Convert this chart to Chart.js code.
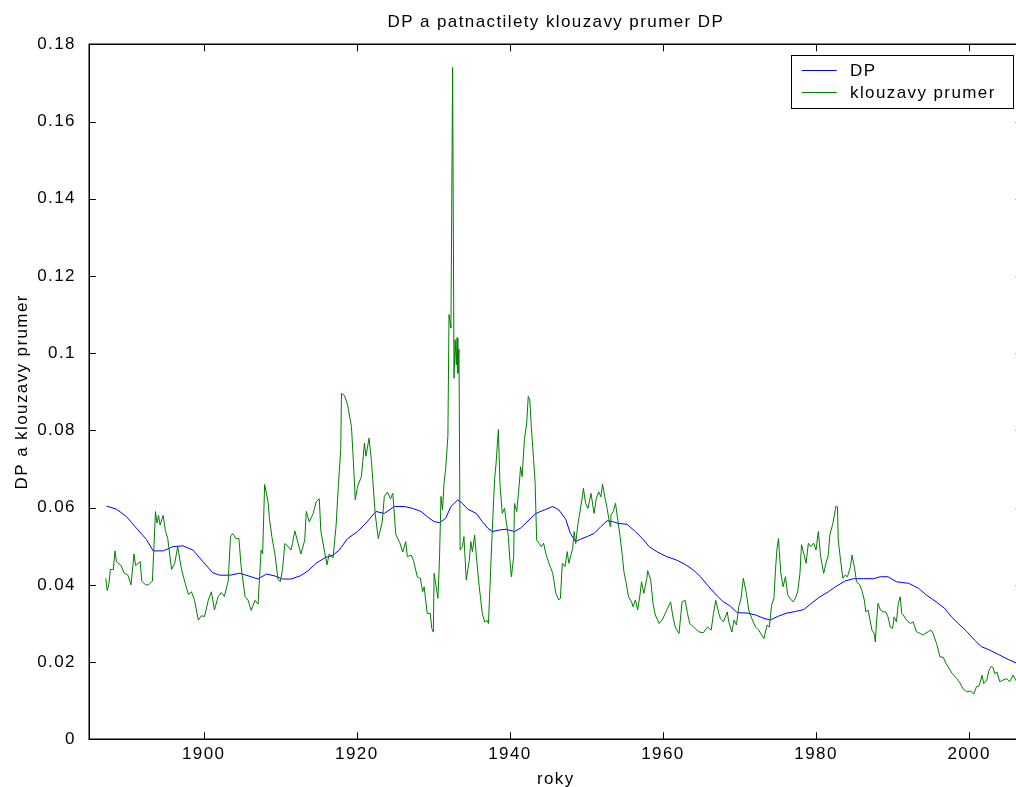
<!DOCTYPE html>
<html><head><meta charset="utf-8">
<script src="https://cdn.jsdelivr.net/npm/chart.js@4.4.1/dist/chart.umd.min.js"></script>
<style>html,body{margin:0;padding:0;background:#fff;overflow:hidden}#wrap{width:1030px;height:787px}</style>
</head><body><div id="wrap"><canvas id="c" width="1030" height="787"></canvas></div>
<script>
const titleText = 'DP a patnactilety klouzavy prumer DP';
const xTitle = 'roky';
const yTitle = 'DP a klouzavy prumer';
const seriesNames = ['DP', 'klouzavy prumer'];
const xTicks = [1900, 1920, 1940, 1960, 1980, 2000];
const yTicks = [0, 0.02, 0.04, 0.06, 0.08, 0.1, 0.12, 0.14, 0.16, 0.18];

// blue series (smooth)
const dpYears = [1887.3,1888.6,1889.9,1891.2,1892.5,1893.4,1894.7,1896.0,1897.3,1898.6,1899.9,1901.2,1902.1,1903.4,1904.7,1906.2,1907.1,1908.2,1909.3,1910.3,1911.4,1912.7,1913.6,1914.7,1915.8,1916.9,1917.7,1918.8,1920.1,1921.2,1922.5,1923.6,1924.9,1926.2,1927.3,1928.4,1929.3,1930.1,1930.8,1931.6,1932.3,1933.2,1933.8,1934.5,1935.6,1936.4,1937.1,1937.7,1938.6,1939.5,1940.6,1941.4,1942.5,1943.4,1944.5,1945.6,1946.4,1947.3,1947.9,1948.6,1949.2,1950.1,1951.0,1951.9,1952.7,1953.4,1954.2,1955.3,1956.4,1957.5,1958.2,1959.2,1960.5,1961.8,1962.9,1964.0,1964.9,1966.0,1967.1,1967.9,1968.8,1969.7,1971.0,1972.1,1973.2,1974.0,1975.1,1976.2,1977.3,1978.4,1979.5,1980.5,1981.6,1982.7,1983.8,1984.9,1986.2,1987.5,1988.4,1989.4,1990.5,1992.1,1993.4,1994.4,1995.7,1996.8,1997.7,1998.6,1999.7,2000.7,2001.6,2002.7,2004.0,2005.1,2006.1,2006.4];
const dpValues = [0.0604,0.0596,0.0577,0.0547,0.0518,0.0488,0.0488,0.0499,0.0501,0.0490,0.0460,0.0431,0.0425,0.0425,0.0430,0.0421,0.0415,0.0428,0.0423,0.0415,0.0415,0.0424,0.0436,0.0456,0.0470,0.0477,0.0490,0.0520,0.0538,0.0560,0.0590,0.0585,0.0603,0.0603,0.0598,0.0590,0.0575,0.0564,0.0561,0.0572,0.0603,0.0620,0.0611,0.0596,0.0585,0.0564,0.0547,0.0538,0.0542,0.0544,0.0538,0.0547,0.0568,0.0585,0.0594,0.0603,0.0594,0.0570,0.0533,0.0512,0.0518,0.0525,0.0533,0.0551,0.0566,0.0564,0.0559,0.0557,0.0538,0.0516,0.0499,0.0486,0.0473,0.0464,0.0453,0.0438,0.0421,0.0395,0.0371,0.0356,0.0345,0.0328,0.0327,0.0322,0.0313,0.0309,0.0319,0.0327,0.0331,0.0336,0.0354,0.0369,0.0382,0.0397,0.0410,0.0416,0.0416,0.0416,0.0421,0.0421,0.0408,0.0404,0.0391,0.0374,0.0356,0.0339,0.0317,0.0300,0.0279,0.0257,0.0240,0.0231,0.0218,0.0207,0.0198,0.0196];

// green series (noisy)
const maYears = [1887.2,1887.4,1887.6,1887.8,1888.2,1888.4,1888.6,1889.2,1889.6,1890.1,1890.5,1890.9,1891.1,1891.7,1891.9,1892.4,1892.8,1893.3,1893.7,1893.9,1894.1,1894.3,1894.7,1895.0,1895.3,1895.8,1896.2,1896.6,1897.1,1897.5,1898.0,1898.4,1898.8,1899.3,1899.7,1900.1,1900.6,1901.0,1901.4,1901.9,1902.3,1902.7,1903.2,1903.5,1903.8,1904.2,1904.6,1904.9,1905.4,1905.8,1906.2,
1906.7,1907.1,1907.3,1907.5,1907.7,1907.96,1908.4,1908.6,1908.9,1909.3,1909.7,1910.0,1910.3,1910.6,1911.0,1911.4,1911.6,1911.9,1912.3,1912.7,1913.2,1913.4,1913.8,1914.3,1914.7,1915.1,1915.3,1915.8,1916.1,1916.4,1916.9,1917.3,1917.6,1917.9,1918.0,1918.4,1918.8,1919.3,1919.5,1919.8,1920.1,1920.6,1921.0,1921.2,1921.6,1921.9,1922.4,1922.8,1923.3,1923.6,1924.0,1924.4,1924.7,1925.1,1925.6,
1926.0,1926.4,1926.6,1927.1,1927.4,1927.9,1928.3,1928.6,1928.8,1929.2,1929.6,1929.8,1930.0,1930.1,1930.3,1930.6,1930.8,1931.0,1931.2,1931.4,1931.6,1931.9,1932.05,1932.3,1932.52,1932.7,1932.85,1933.0,1933.1,1933.2,1933.35,1933.5,1933.6,1933.8,1934.0,1934.3,1934.5,1934.7,1934.9,1935.1,1935.4,1935.7,1936.0,1936.4,1936.7,1937.0,1937.2,1937.4,1937.7,1938.0,1938.2,1938.4,1938.5,1938.7,1939.0,1939.3,1939.5,1939.8,1940.0,1940.2,1940.5,1940.6,1940.9,1941.2,1941.4,1941.6,1941.9,1942.2,1942.4,1942.6,1942.8,1943.1,1943.3,1943.5,1943.8,1944.1,1944.4,1944.7,1945.1,1945.6,1946.0,1946.4,
1946.6,1946.85,1947.2,1947.5,1947.7,1948.2,1948.4,1948.6,1948.9,1949.2,1949.5,1949.6,1949.9,1950.2,1950.6,1951.0,1951.3,1951.6,1951.9,1952.1,1952.4,1952.7,1953.1,1953.2,1953.5,1953.8,1954.1,1954.4,1954.7,1954.9,1955.2,1955.5,1955.9,1956.1,1956.4,1956.7,1957.0,1957.2,1957.5,1957.9,1958.0,1958.4,1958.7,1959.0,1959.5,1959.9,1960.3,1960.6,1961.0,1961.3,1961.6,1962.1,1962.5,1962.9,1963.2,1963.5,1964.0,1964.7,1965.3,1965.8,1966.3,1966.6,1966.9,1967.3,
1967.5,1967.9,1968.4,1968.6,1969.0,1969.3,1969.6,1969.9,1970.2,1970.5,1970.9,1971.2,1971.6,1972.1,1972.5,1972.9,1973.2,1973.6,1973.9,1974.2,1974.5,1974.7,1974.9,1975.1,1975.2,1975.4,1975.7,1976.0,1976.3,1976.6,1977.0,1977.3,1977.6,1977.9,1978.1,1978.4,1978.7,1979.0,1979.3,1979.7,1980.0,1980.3,1980.6,1981.0,1981.3,1981.6,1981.8,1982.2,1982.4,1982.6,1982.8,1982.9,1983.2,1983.5,1983.8,1984.1,1984.5,1984.7,1985.0,1985.3,1985.7,
1986.0,1986.3,1986.5,1986.8,1987.05,1987.3,1987.6,1987.75,1987.9,1988.1,1988.4,1988.8,1989.1,1989.4,1989.7,1990.0,1990.2,1990.5,1990.75,1991.0,1991.2,1991.4,1991.8,1992.3,1992.7,1993.1,1993.6,1994.0,1994.4,1994.7,1995.0,1995.3,1995.75,1996.2,1996.6,1997.0,1997.4,1997.8,1998.4,1998.8,1999.2,1999.7,2000.2,2000.6,2000.96,2001.3,2001.7,2001.9,2002.3,2002.6,2002.9,2003.1,2003.35,2003.65,2004.0,2004.4,2004.9,2005.3,2005.75,2006.1,2006.4];
const maValues = [0.0417,0.0385,0.0400,0.0440,0.0440,0.0488,0.0460,0.0450,0.0431,0.0425,0.0400,0.0480,0.0450,0.0460,0.0410,0.0400,0.0400,0.0410,0.0590,0.0560,0.0580,0.0555,0.0580,0.0540,0.0520,0.0440,0.0455,0.0499,0.0440,0.0410,0.0375,0.0382,0.0360,0.0309,0.0320,0.0318,0.0360,0.0382,0.0335,0.0370,0.0380,0.0370,0.0410,0.0526,0.0533,0.0520,0.0520,0.0445,0.0370,0.0360,0.0334,
0.0360,0.0350,0.0420,0.0490,0.0480,0.0660,0.0616,0.0570,0.0525,0.0480,0.0415,0.0408,0.0440,0.0507,0.0500,0.0490,0.0507,0.0540,0.0510,0.0480,0.0516,0.0590,0.0563,0.0585,0.0615,0.0623,0.0540,0.0485,0.0452,0.0480,0.0470,0.0555,0.0660,0.0750,0.0896,0.0890,0.0866,0.0810,0.0740,0.0620,0.0655,0.0680,0.0767,0.0733,0.0780,0.0724,0.0585,0.0520,0.0560,0.0629,0.0640,0.0623,0.0637,0.0530,0.0510,
0.0485,0.0512,0.0473,0.0477,0.0464,0.0421,0.0417,0.0382,0.0395,0.0326,0.0326,0.0287,0.0278,0.0430,0.0404,0.0365,0.0464,0.0629,0.0594,0.0663,0.0698,0.0784,0.1100,0.1065,0.1740,0.0935,0.1035,0.0970,0.1040,0.0948,0.1010,0.0490,0.0490,0.0499,0.0525,0.0412,0.0438,0.0464,0.0512,0.0486,0.0529,0.0456,0.0395,0.0326,0.0304,0.0308,0.0300,0.0395,0.0542,0.0672,0.0715,0.0776,0.0802,0.0663,0.0585,0.0598,0.0568,0.0525,0.0464,0.0421,0.0473,0.0611,0.0590,0.0654,0.0706,0.0680,0.0776,0.0819,0.0888,0.0879,0.0810,0.0724,0.0663,0.0516,0.0508,0.0499,0.0508,0.0481,0.0456,0.0430,0.0378,0.0361,
0.0365,0.0456,0.0447,0.0486,0.0456,0.0494,0.0538,0.0507,0.0559,0.0594,0.0633,0.0650,0.0611,0.0598,0.0637,0.0585,0.0624,0.0641,0.0628,0.0661,0.0628,0.0598,0.0551,0.0581,0.0590,0.0611,0.0568,0.0525,0.0473,0.0434,0.0404,0.0369,0.0356,0.0343,0.0361,0.0335,0.0374,0.0408,0.0378,0.0417,0.0437,0.0413,0.0352,0.0322,0.0300,0.0309,0.0326,0.0339,0.0356,0.0317,0.0291,0.0274,0.0356,0.0360,0.0326,0.0300,0.0291,0.0278,0.0276,0.0291,0.0283,0.0326,0.0360,0.0326,
0.0313,0.0304,0.0330,0.0304,0.0278,0.0309,0.0296,0.0343,0.0365,0.0417,0.0378,0.0335,0.0313,0.0291,0.0283,0.0270,0.0261,0.0296,0.0291,0.0348,0.0365,0.0438,0.0495,0.0520,0.0486,0.0430,0.0395,0.0421,0.0374,0.0365,0.0356,0.0365,0.0382,0.0430,0.0504,0.0481,0.0456,0.0508,0.0499,0.0508,0.0490,0.0538,0.0473,0.0430,0.0456,0.0477,0.0529,0.0559,0.0581,0.0604,0.0602,0.0516,0.0464,0.0417,0.0425,0.0421,0.0447,0.0477,0.0447,0.0408,0.0400,
0.0385,0.0361,0.0330,0.0335,0.0309,0.0283,0.0274,0.0252,0.0304,0.0352,0.0335,0.0330,0.0330,0.0317,0.0291,0.0287,0.0317,0.0304,0.0352,0.0369,0.0326,0.0322,0.0309,0.0300,0.0304,0.0279,0.0274,0.0270,0.0276,0.0279,0.0283,0.0274,0.0248,0.0213,0.0213,0.0196,0.0183,0.0170,0.0157,0.0146,0.0131,0.0123,0.0125,0.0117,0.0136,0.0138,0.0166,0.0144,0.0153,0.0179,0.0189,0.0187,0.0170,0.0174,0.0149,0.0153,0.0157,0.0149,0.0166,0.0153,0.0145];

const FONT = {family: '"Liberation Sans", Arial, Helvetica, sans-serif', size: 17, weight: 'normal', lineHeight: 1.2};
const LS = '1.4px';
const TL = 7;

const toPts = (xs, ys) => xs.map((x, i) => ({x, y: ys[i]}));

const framePlugin = {
  id: 'frame',
  beforeLayout(chart) { chart.ctx.letterSpacing = LS; },
  beforeDraw(chart) {
    const c = chart.ctx;
    c.letterSpacing = LS;
    c.save(); c.fillStyle = '#fff'; c.fillRect(0, 0, chart.width, chart.height); c.restore();
  },
  afterDatasetsDraw(chart) {
    const {ctx, chartArea: a, scales: {x, y}} = chart;
    ctx.save();
    ctx.strokeStyle = '#000';
    ctx.lineWidth = 1;
    ctx.beginPath();
    for (const v of xTicks) {
      const px = Math.round(x.getPixelForValue(v)) + 0.5;
      ctx.moveTo(px, a.bottom); ctx.lineTo(px, a.bottom - TL);
      ctx.moveTo(px, a.top); ctx.lineTo(px, a.top + TL);
    }
    for (const v of yTicks) {
      const py = Math.round(y.getPixelForValue(v)) + 0.5;
      ctx.moveTo(a.left, py); ctx.lineTo(a.left + TL, py);
      ctx.moveTo(a.right, py); ctx.lineTo(a.right - TL, py);
    }
    ctx.stroke();
    ctx.lineWidth = 1.5;
    ctx.strokeRect(Math.round(a.left) + 0.25, Math.round(a.top) + 0.25, Math.round(a.right - a.left), Math.round(a.bottom - a.top));

    // legend box
    const bx = a.right - 232, by = a.top + 10.7, bw = 221.6, bh = 53.3;
    ctx.fillStyle = '#fff';
    ctx.fillRect(bx, by, bw, bh);
    ctx.lineWidth = 1;
    ctx.strokeStyle = '#000';
    ctx.strokeRect(Math.round(bx) + 0.5, Math.round(by) + 0.5, Math.round(bw), Math.round(bh));
    ctx.font = `${FONT.size}px ${FONT.family}`;
    ctx.letterSpacing = LS;
    ctx.textBaseline = 'middle';
    ctx.textAlign = 'left';
    chart.data.datasets.forEach((ds, i) => {
      const ry = Math.round(by + 15 + i * 22.3) + 0.5;
      ctx.strokeStyle = ds.borderColor;
      ctx.lineWidth = 1;
      ctx.beginPath(); ctx.moveTo(bx + 11, ry); ctx.lineTo(bx + 46, ry); ctx.stroke();
      ctx.fillStyle = '#000';
      ctx.fillText(ds.label, bx + 59.3, ry + 0.5);
    });
    ctx.restore();
  }
};

new Chart(document.getElementById('c'), {
  type: 'line',
  data: {
    datasets: [
      {label: seriesNames[0], data: toPts(dpYears, dpValues), borderColor: '#0000ff', backgroundColor: '#0000ff', borderWidth: 1, pointRadius: 0, tension: 0, fill: false, order: 1},
      {label: seriesNames[1], data: toPts(maYears, maValues), borderColor: '#008000', backgroundColor: '#008000', borderWidth: 1, pointRadius: 0, tension: 0, fill: false, order: 0}
    ]
  },
  options: {
    responsive: false,
    animation: false,
    events: [],
    layout: {padding: {left: 0, right: 7.3, top: 0, bottom: 0}},
    plugins: {
      legend: {display: false},
      tooltip: {enabled: false},
      title: {display: true, text: titleText, color: '#000', font: FONT, fullSize: false, padding: {top: 12, bottom: 11.9}}
    },
    scales: {
      x: {
        type: 'linear', min: 1885, max: 2007,
        grid: {display: false}, border: {display: false},
        afterBuildTicks: s => { s.ticks = xTicks.map(v => ({value: v})); },
        afterFit: s => { s.height = 47.7; },
        ticks: {color: '#000', font: FONT, padding: -3, maxRotation: 0, autoSkip: false, callback: v => String(v)},
        title: {display: true, text: xTitle, color: '#000', font: FONT, padding: {top: 0, bottom: -2.5}}
      },
      y: {
        type: 'linear', min: 0, max: 0.18,
        grid: {display: false}, border: {display: false},
        afterBuildTicks: s => { s.ticks = yTicks.map(v => ({value: v})); },
        afterFit: s => { s.width = 88.9; },
        ticks: {color: '#000', font: FONT, padding: 5, autoSkip: false, callback: v => String(+v.toFixed(2))},
        title: {display: true, text: yTitle, color: '#000', font: FONT, padding: {top: 12.3, bottom: 0}}
      }
    }
  },
  plugins: [framePlugin]
});
</script>
</body></html>
